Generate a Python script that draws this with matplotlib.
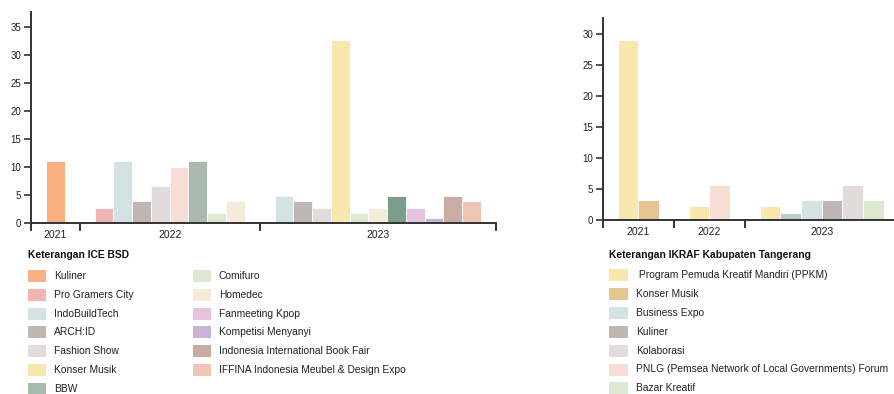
import matplotlib.pyplot as plt
from matplotlib.patches import Rectangle

plt.rcParams['font.family'] = ['Liberation Sans', 'DejaVu Sans']

# ---- data: ICE BSD (left chart) ----
ice_years = ['2021', '2022', '2023']
ice_events = [
    ['Kuliner'],
    ['Pro Gramers City', 'IndoBuildTech', 'ARCH:ID', 'Fashion Show', 'Lainnya',
     'BBW', 'Comifuro', 'Homedec'],
    ['IndoBuildTech', 'ARCH:ID', 'Fashion Show', 'Konser Musik', 'Comifuro', 'Homedec',
     'BBW 2023', 'Fanmeeting Kpop', 'Kompetisi Menyanyi',
     'Indonesia International Book Fair', 'IFFINA Indonesia Meubel & Design Expo'],
]
ice_values = [
    [11.0],
    [2.7, 11.0, 3.9, 6.6, 10.0, 11.0, 1.8, 3.9],
    [4.9, 3.9, 2.7, 32.7, 1.8, 2.7, 4.9, 2.7, 0.9, 4.9, 3.9],
]
ice_legend = ['Kuliner', 'Pro Gramers City', 'IndoBuildTech', 'ARCH:ID', 'Fashion Show',
              'Konser Musik', 'BBW', 'Comifuro', 'Homedec', 'Fanmeeting Kpop',
              'Kompetisi Menyanyi', 'Indonesia International Book Fair',
              'IFFINA Indonesia Meubel & Design Expo']
ice_colors = {
    'Kuliner': '#f9b083', 'Pro Gramers City': '#f0b4b4', 'IndoBuildTech': '#d3e2e2',
    'ARCH:ID': '#bfb6b3', 'Fashion Show': '#e2dadb', 'Konser Musik': '#f8e7ae',
    'BBW': '#a9baad', 'Comifuro': '#dce8cf', 'Homedec': '#f4ebda',
    'Fanmeeting Kpop': '#e6c4de', 'Kompetisi Menyanyi': '#c9b2d6',
    'Indonesia International Book Fair': '#c9ada2',
    'IFFINA Indonesia Meubel & Design Expo': '#edc5b4',
    'Lainnya': '#f8ddd4', 'BBW 2023': '#7a9e87',
}

# ---- data: IKRAF Kabupaten Tangerang (right chart) ----
ikraf_years = ['2021', '2022', '2023']
ikraf_events = [
    ['PPKM', 'Konser Musik'],
    ['PPKM', 'PNLG'],
    ['PPKM', 'Lainnya', 'Business Expo', 'Kuliner', 'Kolaborasi', 'Bazar Kreatif'],
]
ikraf_values = [
    [29.1, 3.2],
    [2.3, 5.7],
    [2.3, 1.1, 3.2, 3.2, 5.7, 3.2],
]
ikraf_legend = [' Program Pemuda Kreatif Mandiri (PPKM)', 'Konser Musik', 'Business Expo',
                'Kuliner', 'Kolaborasi',
                'PNLG (Pemsea Network of Local Governments) Forum', 'Bazar Kreatif']
ikraf_legend_keys = ['PPKM', 'Konser Musik', 'Business Expo', 'Kuliner', 'Kolaborasi',
                     'PNLG', 'Bazar Kreatif']
ikraf_colors = {
    'PPKM': '#f8e7ae', 'Konser Musik': '#e5c692', 'Business Expo': '#d3e2e2',
    'Kuliner': '#bfb6b3', 'Kolaborasi': '#e2dadb', 'PNLG': '#f8ddd4',
    'Bazar Kreatif': '#dce8cf', 'Lainnya': '#bdcfc5',
}

W, H = 895, 394
fig = plt.figure(figsize=(W / 100, H / 100), dpi=100)
AX = '#333333'


def grouped(ax, years, events, values, colors, pad, ymax, yticks):
    start = 0.0
    bounds = [0.0]
    centers = []
    for names, vals in zip(events, values):
        n = len(vals)
        x0 = start + pad / 2
        for i, (nm, v) in enumerate(zip(names, vals)):
            ax.bar(x0 + i + 0.5, v, width=1.0, color=colors[nm],
                   edgecolor='white', linewidth=0.6)
        centers.append(start + (n + pad) / 2)
        start += n + pad
        bounds.append(start)
    ax.set_xlim(0, start)
    ax.set_ylim(0, ymax)
    for s in ['top', 'right']:
        ax.spines[s].set_visible(False)
    for s in ['left', 'bottom']:
        ax.spines[s].set_color(AX)
        ax.spines[s].set_linewidth(1.4)
    ax.set_yticks(yticks)
    ax.tick_params(axis='y', length=5, width=1.2, color=AX, labelsize=7,
                   labelcolor='#222222', pad=2)
    ax.set_xticks(centers)
    ax.set_xticklabels(years)
    ax.tick_params(axis='x', which='major', length=0, labelsize=7.5,
                   labelcolor='#222222', pad=5)
    ax.set_xticks(bounds, minor=True)
    ax.tick_params(axis='x', which='minor', length=6, width=1.4, color=AX)
    ax.set_facecolor('none')


def place(x0, y_top, x1, y_bot):
    return [x0 / W, (H - y_bot) / H, (x1 - x0) / W, (y_bot - y_top) / H]


ax1 = fig.add_axes(place(31, 12, 496, 223))
grouped(ax1, ice_years, ice_events, ice_values, ice_colors, 1.6, 37.7, range(0, 36, 5))

ax2 = fig.add_axes(place(602.7, 18.3, 898.5, 220))
grouped(ax2, ikraf_years, ikraf_events, ikraf_values, ikraf_colors, 1.43, 32.6,
        range(0, 31, 5))


def legend(title, x, labels, colors, rows, step, y0, colx, sw, sh):
    fig.text(x / W, 1 - 255 / H, title, fontsize=7.4, fontweight='bold',
             va='center', ha='left', color='#111111')
    for k, (lab, col) in enumerate(zip(labels, colors)):
        c, r = divmod(k, rows)
        sx = x + c * colx
        yc = y0 + r * step
        fig.add_artist(Rectangle((sx / W, 1 - (yc + sh / 2) / H), sw / W, sh / H,
                                 transform=fig.transFigure, color=col, lw=0))
        fig.text((sx + sw + 8) / W, 1 - yc / H, lab, fontsize=7.4, va='center',
                 ha='left', color='#222222')


legend('Keterangan ICE BSD', 28, ice_legend, [ice_colors[k] for k in ice_legend],
       7, 18.8, 276, 165, 18, 12)
legend('Keterangan IKRAF Kabupaten Tangerang', 609, ikraf_legend,
       [ikraf_colors[k] for k in ikraf_legend_keys], 7, 18.9, 275, 0, 19, 12)

fig.savefig('out.png', dpi=100)
